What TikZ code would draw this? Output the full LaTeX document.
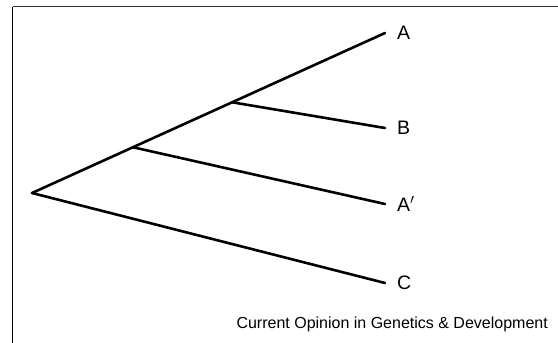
\documentclass[tikz,border=0pt]{standalone}
\usepackage{fontspec}
\setmainfont{Liberation Sans}
\usetikzlibrary{positioning,calc}
\tikzset{
  branch/.style={line width=2.6pt,black,line cap=round},
  frameline/.style={line width=1.8pt},
  leaflabel/.style={font=\fontsize{19.5}{22}\selectfont,inner sep=0pt},
  creditlabel/.style={font=\fontsize{16}{18}\selectfont,inner sep=0pt}
}
\begin{document}
\begin{tikzpicture}[x=1pt,y=-1pt]
  \useasboundingbox (0,0) rectangle (558,343);

  % open frame: top and left only
  \coordinate (frameTL) at (12.5,6.5);
  \coordinate (frameTR) at (558,6.5);
  \coordinate (frameBL) at (12.5,343);
  \draw[frameline,black!80] (frameTL) -- (frameTR);
  \draw[frameline,black] (frameTL) -- (frameBL);

  % tree
  \coordinate (root) at (32,193);
  \coordinate (endA) at (385,33);
  \coordinate (endB) at (385,128);
  \coordinate (endAp) at (385,204);
  \coordinate (endC) at (385,283);
  \coordinate (splitLow) at ($(root)!0.286!(endA)$);
  \coordinate (splitHigh) at ($(root)!0.567!(endA)$);

  \draw[branch] (root) -- (splitLow) -- (splitHigh) -- (endA);
  \draw[branch] (splitHigh) -- (endB);
  \draw[branch] (splitLow) -- (endAp);
  \draw[branch] (root) -- (endC);

  \node[leaflabel,anchor=west,right=12pt of endA] (labA) {A};
  \node[leaflabel,anchor=west,right=12pt of endB] (labB) {B};
  \node[leaflabel,anchor=west,right=12pt of endAp] (labAp) {A$'$};
  \node[leaflabel,anchor=west,right=12pt of endC] (labC) {C};

  \node[creditlabel,anchor=east] (credit) at (548,324) {Current Opinion in Genetics \& Development};
\end{tikzpicture}
\end{document}
